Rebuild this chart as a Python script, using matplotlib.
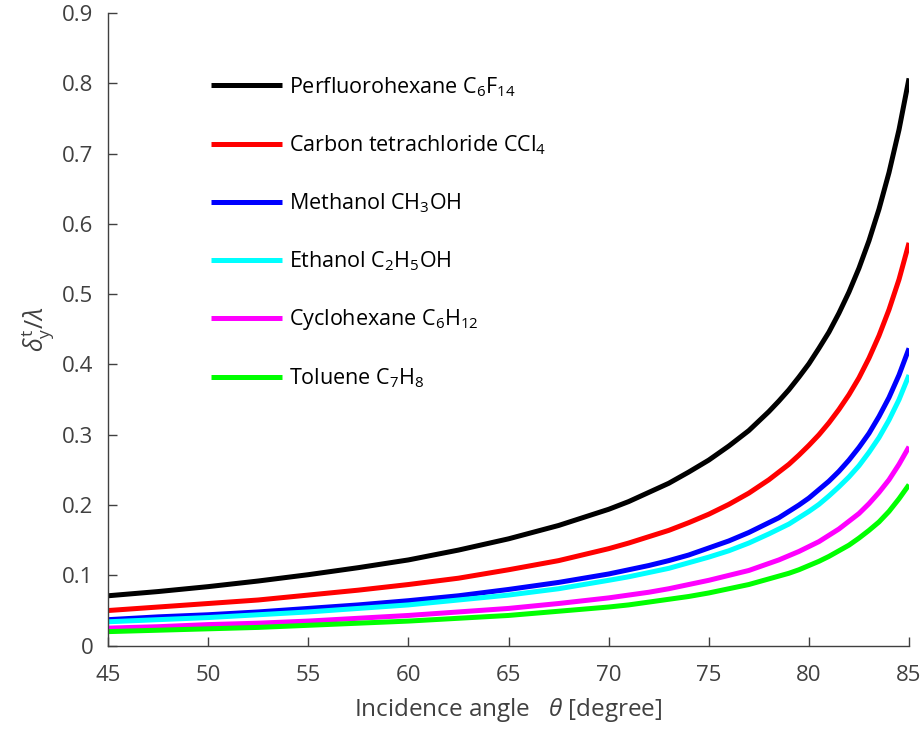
import matplotlib
matplotlib.use("Agg")
import matplotlib.pyplot as plt

# Incidence angle grid (degrees), denser where the curves steepen
theta = [45, 47.5, 50, 52.5, 55, 57.5, 60, 62.5, 65, 67.5,
         70, 71, 72, 73, 74, 75, 76, 77, 78, 78.5, 79, 79.5, 80,
         80.5, 81, 81.5, 82, 82.5, 83, 83.5, 84, 84.5, 85]

# Normalised transverse shift delta_y^t / lambda for each liquid
perfluorohexane = [0.071, 0.077, 0.084, 0.092, 0.101, 0.111, 0.122, 0.136, 0.152, 0.171,
                   0.194, 0.205, 0.218, 0.231, 0.247, 0.264, 0.284, 0.306, 0.333, 0.348,
                   0.364, 0.382, 0.401, 0.423, 0.446, 0.473, 0.503, 0.537, 0.576,
                   0.621, 0.673, 0.734, 0.807]
carbon_tetrachloride = [0.050, 0.055, 0.060, 0.065, 0.072, 0.079, 0.087, 0.096, 0.108, 0.121,
                        0.138, 0.146, 0.155, 0.164, 0.175, 0.187, 0.201, 0.217, 0.236, 0.247,
                        0.258, 0.271, 0.285, 0.300, 0.317, 0.336, 0.357, 0.381, 0.409,
                        0.441, 0.478, 0.521, 0.573]
methanol = [0.037, 0.041, 0.044, 0.048, 0.053, 0.058, 0.064, 0.071, 0.080, 0.090,
            0.102, 0.108, 0.114, 0.121, 0.129, 0.139, 0.149, 0.161, 0.175, 0.182,
            0.191, 0.200, 0.210, 0.222, 0.234, 0.248, 0.264, 0.282, 0.302,
            0.326, 0.353, 0.385, 0.423]
ethanol = [0.034, 0.037, 0.040, 0.044, 0.048, 0.053, 0.058, 0.065, 0.072, 0.081,
           0.093, 0.098, 0.104, 0.110, 0.118, 0.126, 0.135, 0.146, 0.159, 0.166,
           0.173, 0.182, 0.191, 0.201, 0.213, 0.226, 0.240, 0.256, 0.275,
           0.296, 0.321, 0.350, 0.385]
cyclohexane = [0.025, 0.027, 0.030, 0.032, 0.035, 0.039, 0.043, 0.048, 0.053, 0.060,
               0.068, 0.072, 0.076, 0.081, 0.087, 0.093, 0.100, 0.107, 0.117, 0.122,
               0.128, 0.134, 0.141, 0.148, 0.157, 0.166, 0.177, 0.188, 0.202,
               0.218, 0.236, 0.258, 0.283]
toluene = [0.020, 0.022, 0.024, 0.026, 0.029, 0.032, 0.035, 0.039, 0.043, 0.049,
           0.055, 0.058, 0.062, 0.066, 0.070, 0.075, 0.081, 0.087, 0.095, 0.099,
           0.103, 0.108, 0.114, 0.120, 0.127, 0.135, 0.143, 0.153, 0.164,
           0.176, 0.191, 0.209, 0.229]

labels = ["Perfluorohexane C$_6$F$_{14}$",
          "Carbon tetrachloride CCl$_4$",
          "Methanol CH$_3$OH",
          "Ethanol C$_2$H$_5$OH",
          "Cyclohexane C$_6$H$_{12}$",
          "Toluene C$_7$H$_8$"]
series = [perfluorohexane, carbon_tetrachloride, methanol, ethanol, cyclohexane, toluene]
colors = ["#000000", "#ff0000", "#0000ff", "#00ffff", "#ff00ff", "#00ff00"]

xticks = [45, 50, 55, 60, 65, 70, 75, 80, 85]
yticks = [0, 0.1, 0.2, 0.3, 0.4, 0.5, 0.6, 0.7, 0.8, 0.9]

plt.rcParams["font.family"] = ["Open Sans", "DejaVu Sans"]
plt.rcParams["mathtext.fontset"] = "custom"
plt.rcParams["mathtext.rm"] = "Open Sans"
plt.rcParams["mathtext.it"] = "Open Sans:italic"
plt.rcParams["mathtext.default"] = "regular"

axis_color = "#404040"

fig = plt.figure(figsize=(9.21, 7.30), dpi=100)
ax = fig.add_axes([0.1173, 0.1155, 0.8697, 0.8667])

for y, c, lab in zip(series, colors, labels):
    ax.plot(theta, y, color=c, lw=3.6, label=lab,
            solid_capstyle="butt", solid_joinstyle="round")

ax.set_xlim(45, 85)
ax.set_ylim(0, 0.9)
ax.set_xticks(xticks)
ax.set_yticks(yticks)
ax.set_xticklabels([str(t) for t in xticks])
ax.set_yticklabels(["0"] + [f"{t:.1f}" for t in yticks[1:]])

for side in ("top", "right"):
    ax.spines[side].set_visible(False)
for side in ("left", "bottom"):
    ax.spines[side].set_color(axis_color)
    ax.spines[side].set_linewidth(1.0)
ax.tick_params(direction="in", length=6.5, width=1.0, colors=axis_color,
               labelsize=16)
ax.tick_params(axis="x", pad=14)
ax.tick_params(axis="y", pad=10.5)

ax.set_xlabel(r"Incidence angle   $\mathit{\theta}$ [degree]", fontsize=17.5,
              color=axis_color, labelpad=7)
ax.set_ylabel(r"$\mathit{\delta}_y^t/\mathit{\lambda}$", fontsize=18,
              color=axis_color, labelpad=4)

leg = ax.legend(loc="upper left", bbox_to_anchor=(0.128, 0.902), frameon=False,
                fontsize=15.5, handlelength=3.3, handletextpad=0.33,
                labelspacing=1.6, borderaxespad=0, borderpad=0)
for h in leg.get_lines():
    h.set_linewidth(3.6)

fig.savefig("out.png", dpi=100)
